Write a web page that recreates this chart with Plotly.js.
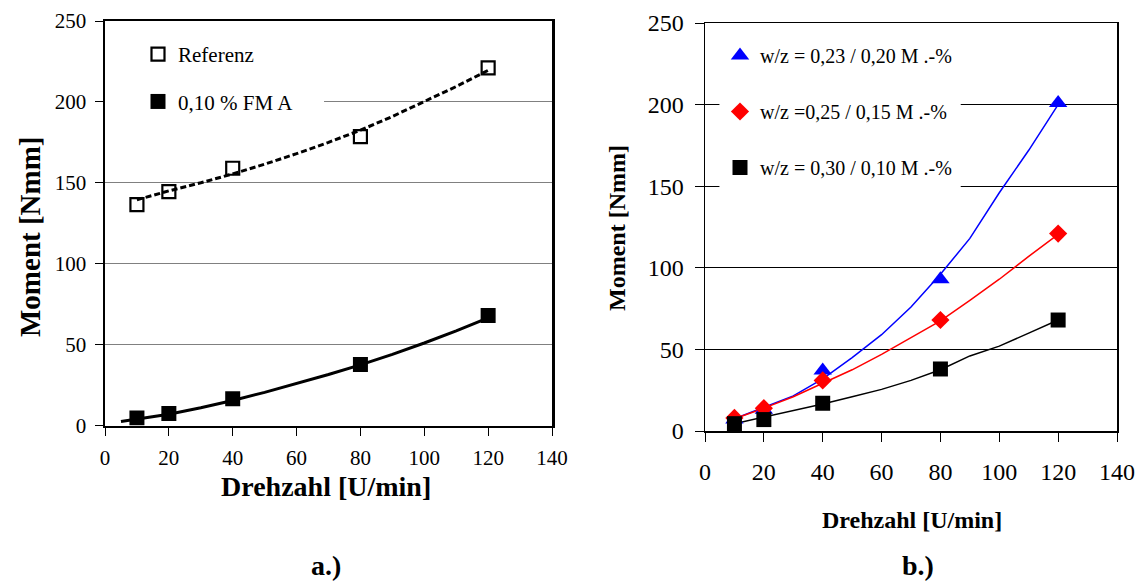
<!DOCTYPE html>
<html>
<head>
<meta charset="utf-8">
<script src="https://cdn.plot.ly/plotly-3.0.1.min.js"></script>
<style>html,body{margin:0;padding:0;background:#fff;}#chart{width:1141px;height:581px;}</style>
</head>
<body>
<div id="chart"></div>
<script>
// ---- Data ----
// Panel a.)
const rpmA = [10, 20, 40, 80, 120];
const referenzMoment = [136.5, 144.5, 159, 178.5, 221];
const fmaMoment = [4.7, 7.4, 16.5, 37.7, 68];
const referenzTrendX = [10, 20, 30, 40, 50, 60, 70, 80, 90, 100, 110, 120];
const referenzTrendY = [139.5, 145, 150, 155.5, 161.5, 168, 175, 182.5, 191, 200, 209.5, 219.5];
const fmaTrendX = [5, 10, 20, 30, 40, 50, 60, 70, 80, 90, 100, 110, 120];
const fmaTrendY = [2.5, 4, 7, 11, 15.5, 20.5, 26, 31.5, 37.5, 44, 51, 58.5, 66.5];
// Panel b.)
const rpmB = [10, 20, 40, 80, 120];
const wz023 = [7, 13, 37, 93, 201];
const wz025 = [8, 14, 31, 68, 121];
const wz030 = [4.5, 7, 17, 38, 68];
const curveX = [10, 20, 30, 40, 50, 60, 70, 80, 90, 100, 110, 120];
const wz023Curve = [7.5, 14.5, 21.5, 32, 45, 59, 76, 96, 118, 146, 172, 200];
const wz025Curve = [7.5, 14, 21, 29.5, 37.5, 47, 57, 67.5, 80, 93, 107, 120.5];
const wz030Curve = [4.5, 8.5, 12.5, 16.5, 21, 25.5, 31, 37.5, 46, 52, 60, 68];
// Labels
const legendA = ['Referenz', '0,10 % FM A'];
const legendB = ['w/z = 0,23 / 0,20 M .-%', 'w/z =0,25 / 0,15 M .-%', 'w/z = 0,30 / 0,10 M .-%'];
const xTicks = [0, 20, 40, 60, 80, 100, 120, 140];
const yTicks = [0, 50, 100, 150, 200, 250];
const xTitle = 'Drehzahl [U/min]';
const yTitle = 'Moment [Nmm]';

const SERIF = 'Liberation Serif, Times New Roman, serif';
const W = 1141, H = 581;
const px = v => v / W;
const py = v => 1 - v / H;

const traces = [
  // panel a
  {x: referenzTrendX, y: referenzTrendY, mode: 'lines', xaxis: 'x', yaxis: 'y', showlegend: false,
   line: {color: '#000', width: 3, dash: '6px,3px'}, hoverinfo: 'skip'},
  {x: fmaTrendX, y: fmaTrendY, mode: 'lines', xaxis: 'x', yaxis: 'y', showlegend: false,
   line: {color: '#000', width: 3}, hoverinfo: 'skip'},
  {x: rpmA, y: referenzMoment, mode: 'markers', name: legendA[0], xaxis: 'x', yaxis: 'y',
   legend: 'legend', legendgroup: 'a1',
   marker: {symbol: 'square-open', size: 13, color: '#000', line: {width: 2.2, color: '#000'}}},
  {x: rpmA, y: fmaMoment, mode: 'markers', name: legendA[1], xaxis: 'x', yaxis: 'y',
   legend: 'legend', legendgroup: 'a2',
   marker: {symbol: 'square', size: 15, color: '#000'}},
  // panel b
  {x: curveX, y: wz023Curve, mode: 'lines', xaxis: 'x2', yaxis: 'y2', showlegend: false,
   line: {color: '#0000ff', width: 1.5}, hoverinfo: 'skip'},
  {x: curveX, y: wz025Curve, mode: 'lines', xaxis: 'x2', yaxis: 'y2', showlegend: false,
   line: {color: '#ff0000', width: 1.5}, hoverinfo: 'skip'},
  {x: curveX, y: wz030Curve, mode: 'lines', xaxis: 'x2', yaxis: 'y2', showlegend: false,
   line: {color: '#000', width: 1.5}, hoverinfo: 'skip'},
  {x: rpmB, y: wz023, mode: 'markers', name: legendB[0], xaxis: 'x2', yaxis: 'y2',
   legend: 'legend2', legendgroup: 'b1',
   marker: {symbol: 'triangle-up', size: 16, color: '#0000ff'}},
  {x: rpmB, y: wz025, mode: 'markers', name: legendB[1], xaxis: 'x2', yaxis: 'y2',
   legend: 'legend2', legendgroup: 'b2',
   marker: {symbol: 'diamond', size: 14, color: '#ff0000'}},
  {x: rpmB, y: wz030, mode: 'markers', name: legendB[2], xaxis: 'x2', yaxis: 'y2',
   legend: 'legend2', legendgroup: 'b3',
   marker: {symbol: 'square', size: 15, color: '#000'}}
];

function axisX(domain, anchor, lw, fs, tl, standoff) {
  return {domain: domain, anchor: anchor, range: [0, 140], tickvals: xTicks, showgrid: false,
    zeroline: false, showline: true, linecolor: '#000', linewidth: lw, mirror: true,
    ticks: 'outside', ticklen: tl, tickwidth: 1, tickcolor: '#000',
    ticklabelstandoff: standoff,
    tickfont: {family: SERIF, size: fs, color: '#000'}, fixedrange: true};
}
function axisY(domain, anchor, lw, fs, tl, gridcolor, standoff) {
  return {domain: domain, anchor: anchor, range: [0, 250], tickvals: yTicks, showgrid: true,
    gridcolor: gridcolor, gridwidth: 1, zeroline: false, showline: true, linecolor: '#000',
    linewidth: lw, mirror: true, ticks: 'outside', ticklen: tl, tickwidth: 1, tickcolor: '#000',
    ticklabelstandoff: standoff,
    tickfont: {family: SERIF, size: fs, color: '#000'}, fixedrange: true};
}

function label(text, x, y, size, angle) {
  return {text: '<b>' + text + '</b>', xref: 'paper', yref: 'paper', x: px(x), y: py(y),
    xanchor: 'center', yanchor: 'middle', showarrow: false, textangle: angle || 0,
    font: {family: SERIF, size: size, color: '#000'}};
}

const layout = {
  width: W, height: H,
  margin: {l: 0, r: 0, t: 0, b: 0},
  paper_bgcolor: '#fff', plot_bgcolor: '#fff',
  font: {family: SERIF, color: '#000'},
  xaxis: axisX([px(105), px(552)], 'y', 2.5, 21, 8, 4),
  yaxis: axisY([py(425.5), py(21)], 'x', 2.5, 21, 8, '#808080', 4),
  xaxis2: axisX([px(705), px(1117)], 'y2', 1.5, 24, 9, 10),
  yaxis2: axisY([py(431), py(23)], 'x2', 1.5, 24, 9, '#000', 6),
  legend: {x: px(138), y: py(34), xanchor: 'left', yanchor: 'top', bgcolor: 'rgba(0,0,0,0)',
    font: {family: SERIF, size: 21, color: '#000'}, traceorder: 'grouped', tracegroupgap: 17,
    itemwidth: 30},
  legend2: {x: px(720), y: py(36), xanchor: 'left', yanchor: 'top', bgcolor: 'rgba(0,0,0,0)',
    font: {family: SERIF, size: 20, color: '#000'}, traceorder: 'grouped', tracegroupgap: 27,
    itemwidth: 30},
  shapes: [
    {type: 'rect', xref: 'x', yref: 'y', x0: 0, x1: 68.6, y0: 185, y1: 249,
     fillcolor: '#fff', line: {width: 0}, layer: 'between'},
    {type: 'rect', xref: 'x2', yref: 'y2', x0: 4.9, x1: 86.9, y0: 140, y1: 249,
     fillcolor: '#fff', line: {width: 0}, layer: 'between'}
  ],
  annotations: [
    label(xTitle, 326, 486, 28),
    label(yTitle, 30, 237, 29, -90),
    label(xTitle, 912, 520, 24),
    label(yTitle, 617, 228, 24, -90),
    label('a.)', 326, 565, 28),
    label('b.)', 918, 565, 28)
  ]
};

Plotly.newPlot('chart', traces, layout, {displayModeBar: false, staticPlot: true});
</script>
</body>
</html>
